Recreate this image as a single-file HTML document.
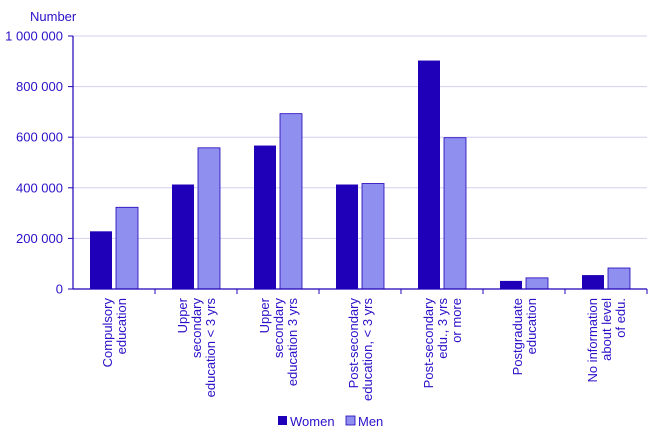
<!DOCTYPE html>
<html><head><meta charset="utf-8"><style>
body{margin:0;background:#fff;}
svg{display:block;font-family:"Liberation Sans",sans-serif;}
text{fill:#2a10c8;font-size:13px;}
</style></head><body>
<svg id="chart" width="655" height="442">
<text x="30" y="21">Number</text>
<g id="grid"></g><g id="bars"></g><g id="axes"></g>
<g>
<rect x="278" y="416" width="9" height="9" fill="#1f00b8"/>
<text x="290" y="426">Women</text>
<rect x="346" y="416" width="9" height="9" fill="#8f8ff0" stroke="#1f00b8" stroke-width="0.8"/>
<text x="358" y="426">Men</text>
</g>
</svg>
<script>
const categories=[["Compulsory","education"],["Upper","secondary","education < 3 yrs"],["Upper","secondary","education 3 yrs"],["Post-secondary","education, < 3 yrs"],["Post-secondary","edu., 3 yrs","or more"],["Postgraduate","education"],["No information","about level","of edu."]];
const women=[228000,413000,567000,413000,903000,32000,55000];
const men=[323000,558000,693000,417000,598000,44000,83000];
const ticks=[0,200000,400000,600000,800000,1000000];
const tickLabels=["0","200 000","400 000","600 000","800 000","1 000 000"];
const NS="http://www.w3.org/2000/svg";
const x0=73,x1=647,y0=289,y1=36,ymax=1000000;
const gw=(x1-x0)/categories.length;
const Y=v=>y0-(v/ymax)*(y0-y1);
function mk(tag,attrs,parent){const e=document.createElementNS(NS,tag);for(const k in attrs)e.setAttribute(k,attrs[k]);parent.appendChild(e);return e;}
const grid=document.getElementById('grid'),bars=document.getElementById('bars'),axes=document.getElementById('axes');
ticks.forEach((t,i)=>{
 if(i>0){const l=mk('line',{x1:x0,x2:x1,y1:Y(t),y2:Y(t),stroke:'#d4d0f0','stroke-width':1},grid);
 
 }
 const tk=mk('line',{x1:x0-5,x2:x0,y1:Y(t),y2:Y(t),stroke:'#1f00b8'},axes);
 
 
 const tx=mk('text',{x:x0-10,y:Y(t)+4.5,'text-anchor':'end'},axes);tx.textContent=tickLabels[i];
 
 
});
const ya=mk('line',{x1:x0,x2:x0,y1:y1,y2:y0,stroke:'#1f00b8','stroke-width':1.2},axes);


const xa=mk('line',{x1:x0,x2:x1,y1:y0,y2:y0,stroke:'#1f00b8','stroke-width':1.2},axes);


categories.forEach((c,i)=>{
 const gx=x0+i*gw;
 const w=mk('rect',{x:gx+17,y:Y(women[i]),width:22,height:y0-Y(women[i]),fill:'#1f00b8'},bars);
 
 
 const m=mk('rect',{x:gx+43,y:Y(men[i]),width:22,height:y0-Y(men[i]),fill:'#8f8ff0',stroke:'#1f00b8','stroke-width':0.8},bars);
 
 
 const tk=mk('line',{x1:gx+gw,x2:gx+gw,y1:y0,y2:y0+5,stroke:'#1f00b8'},axes);
 
 
 const cx=gx+gw/2,n=c.length;
 c.forEach((line,j)=>{
  const lx=cx+(j-(n-1)/2)*14+5;
  const t=mk('text',{x:lx,y:298,'text-anchor':'end',transform:`rotate(-90 ${lx} 298)`},axes);
  t.textContent=line;
  
  
 });
});
</script>
</body></html>
